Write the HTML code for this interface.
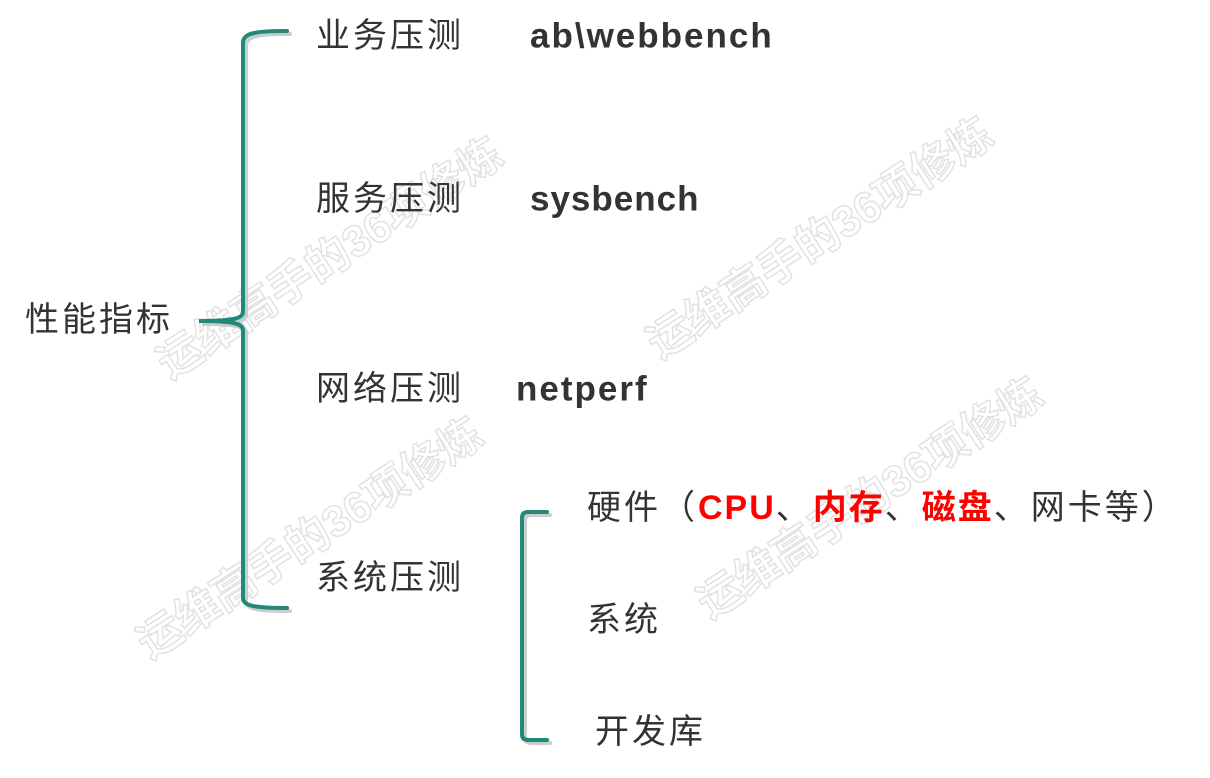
<!DOCTYPE html>
<html><head><meta charset="utf-8"><style>
body{margin:0;width:1210px;height:778px;background:#fff;position:relative;overflow:hidden;font-family:"Liberation Sans","Noto Sans CJK SC",sans-serif;color:#333}
.t{position:absolute;font-size:34px;letter-spacing:3px;line-height:1;white-space:nowrap;transform:translateY(-50%)}
.r{color:#f00;font-weight:bold;letter-spacing:2px}
.b{font-weight:bold;color:#333;font-size:35px;letter-spacing:2px}
</style></head><body>
<svg width="1210" height="778" style="position:absolute;left:0;top:0">
<g font-family="Liberation Sans,Noto Sans CJK SC,sans-serif" font-size="44" fill="none" stroke="#e2e2e2" stroke-width="1.5" font-weight="bold">
<text transform="translate(170,380) rotate(-33)">运维高手的36项修炼</text>
<text transform="translate(660,360) rotate(-33)">运维高手的36项修炼</text>
<text transform="translate(150,660) rotate(-33)">运维高手的36项修炼</text>
<text transform="translate(710,620) rotate(-33)">运维高手的36项修炼</text>
</g>
<g fill="none" stroke-width="4" stroke-linecap="round">
<g stroke="#ccc" transform="translate(3,3)">
<path d="M287 31 C255 31 243 33 243 43 L243 312 C243 318 235 321 199 321 C235 321 243 324 243 330 L243 598 C243 606 255 608 287 608"/>
<path d="M547 512 L528 512 Q522 512 522 518 L522 734 Q522 740 528 740 L547 740"/>
</g>
<g stroke="#1f8a7a">
<path d="M287 31 C255 31 243 33 243 43 L243 312 C243 318 235 321 199 321 C235 321 243 324 243 330 L243 598 C243 606 255 608 287 608"/>
<path d="M547 512 L528 512 Q522 512 522 518 L522 734 Q522 740 528 740 L547 740"/>
</g></g>
</svg>
<div class="t" style="left:316px;top:36px">业务压测</div>
<div class="t b" style="left:530px;top:36px">ab\webbench</div>
<div class="t" style="left:316px;top:199px">服务压测</div>
<div class="t b" style="left:530px;top:199px;letter-spacing:1px">sysbench</div>
<div class="t" style="left:316px;top:389px">网络压测</div>
<div class="t b" style="left:516px;top:389px">netperf</div>
<div class="t" style="left:316px;top:578px">系统压测</div>
<div class="t" style="left:25px;top:320px">性能指标</div>
<div class="t" style="left:587px;top:508px;letter-spacing:3px">硬件（<span class="r">CPU</span>、<span class="r">内存</span>、<span class="r">磁盘</span>、网卡等）</div>
<div class="t" style="left:587px;top:620px">系统</div>
<div class="t" style="left:595px;top:732px">开发库</div>
</body></html>
